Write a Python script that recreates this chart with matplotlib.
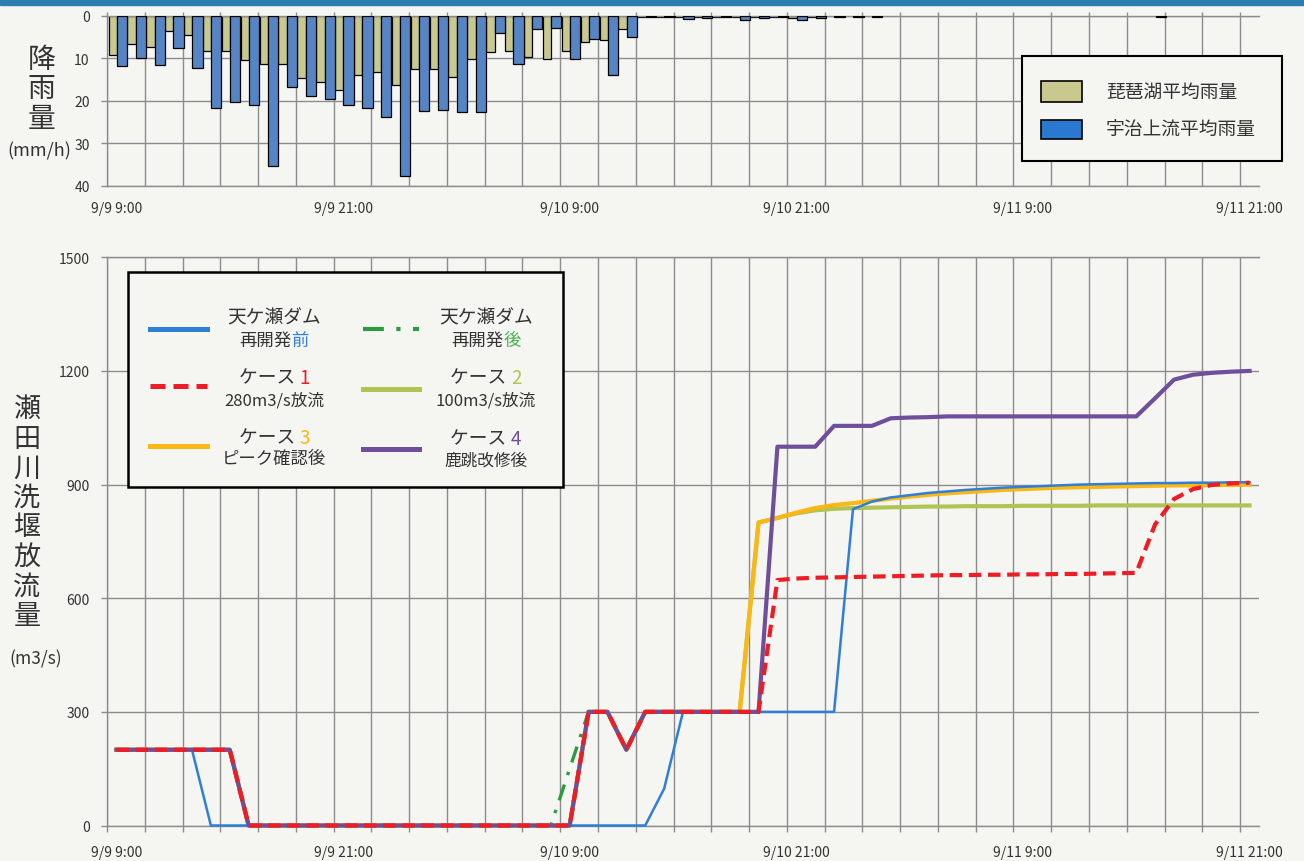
"""Rainfall (top) and Seta river weir discharge scenarios (bottom), 9/9 9:00 - 9/11 21:00."""

import matplotlib

matplotlib.use("Agg")
import matplotlib.pyplot as plt
import numpy as np
from matplotlib.lines import Line2D
from matplotlib.patches import Rectangle

plt.rcParams["font.family"] = ["Noto Sans CJK JP", "DejaVu Sans"]

W, H = 1304, 862
BG = "#f5f5f2"
GRID = "#8c8c8c"
TXT = "#333333"

# ── data (hourly, 9/9 9:00 .. 9/11 21:00) ──────────────────────────────────
tick_hours = [0, 12, 24, 36, 48, 60]
tick_labels = ["9/9 9:00", "9/9 21:00", "9/10 9:00", "9/10 21:00", "9/11 9:00", "9/11 21:00"]

# mm/h
rain_biwa = [9.3, 6.7, 7.3, 3.7, 4.5, 8.4, 8.4, 10.4, 11.4, 11.4,
             14.7, 15.7, 17.5, 14.0, 13.2, 16.2, 12.5, 12.5, 14.5, 10.2,
             8.5, 8.2, 9.6, 10.2, 8.4, 6.1, 5.6, 3.1, 0.2, 0.2,
             0.3, 0.3, 0.2, 0.3, 0.3, 0.3, 0.6, 0.3, 0.0, 0.0,
             0.0, 0.0, 0.0, 0.0, 0.0, 0.0, 0.0, 0.0, 0.0, 0.0,
             0.0, 0.0, 0.0, 0.0, 0.0, 0.0, 0.0, 0.0, 0.0, 0.0,
             0.0]
rain_uji = [11.8, 10.0, 11.6, 7.7, 12.2, 21.6, 20.4, 20.9, 35.3, 16.7,
            19.0, 19.5, 20.9, 21.6, 23.8, 37.6, 22.5, 22.1, 22.7, 22.6,
            4.1, 11.4, 3.1, 3.0, 10.2, 5.5, 14.0, 4.9, 0.3, 0.3,
            0.8, 0.5, 0.4, 1.0, 0.5, 0.4, 1.0, 0.6, 0.2, 0.2,
            0.2, 0.0, 0.0, 0.0, 0.0, 0.0, 0.0, 0.0, 0.0, 0.0,
            0.0, 0.0, 0.0, 0.0, 0.0, 0.3, 0.0, 0.0, 0.0, 0.0,
            0.0]

# m3/s
q_before = [200, 200, 200, 200, 200, 0, 0, 0, 0, 0,
            0, 0, 0, 0, 0, 0, 0, 0, 0, 0,
            0, 0, 0, 0, 0, 0, 0, 0, 0, 97,
            300, 300, 300, 300, 300, 300, 300, 300, 300, 835,
            855, 866, 872, 878, 882, 886, 889, 892, 894, 896,
            898, 900, 901, 902, 903, 904, 904, 905, 905, 906,
            906]
q_after = [200, 200, 200, 200, 200, 200, 200, 0, 0, 0,
           0, 0, 0, 0, 0, 0, 0, 0, 0, 0,
           0, 0, 0, 0, 150, 300, 300, 200, 300, 300,
           300, 300, 300, 300, np.nan, np.nan, np.nan, np.nan, np.nan, np.nan,
           np.nan, np.nan, np.nan, np.nan, np.nan, np.nan, np.nan, np.nan, np.nan, np.nan,
           np.nan, np.nan, np.nan, np.nan, np.nan, np.nan, np.nan, np.nan, np.nan, np.nan,
           np.nan]
q_case1 = [200, 200, 200, 200, 200, 200, 200, 0, 0, 0,
           0, 0, 0, 0, 0, 0, 0, 0, 0, 0,
           0, 0, 0, 0, 0, 300, 300, 200, 300, 300,
           300, 300, 300, 300, 300, 648, 652, 654, 655, 656,
           657, 658, 659, 660, 661, 661, 662, 662, 663, 663,
           664, 664, 665, 666, 667, 795, 862, 888, 899, 903,
           905]
q_case2 = [200, 200, 200, 200, 200, 200, 200, 0, 0, 0,
           0, 0, 0, 0, 0, 0, 0, 0, 0, 0,
           0, 0, 0, 0, 0, 300, 300, 200, 300, 300,
           300, 300, 300, 300, 800, 812, 824, 832, 836, 838,
           839, 840, 841, 842, 842, 843, 843, 843, 844, 844,
           844, 844, 845, 845, 845, 845, 845, 845, 845, 845,
           845]
q_case3 = [200, 200, 200, 200, 200, 200, 200, 0, 0, 0,
           0, 0, 0, 0, 0, 0, 0, 0, 0, 0,
           0, 0, 0, 0, 0, 300, 300, 200, 300, 300,
           300, 300, 300, 300, 800, 812, 826, 838, 846, 851,
           857, 863, 868, 873, 877, 880, 883, 886, 888, 890,
           892, 893, 894, 895, 896, 897, 898, 898, 899, 899,
           900]
q_case4 = [200, 200, 200, 200, 200, 200, 200, 0, 0, 0,
           0, 0, 0, 0, 0, 0, 0, 0, 0, 0,
           0, 0, 0, 0, 0, 300, 300, 200, 300, 300,
           300, 300, 300, 300, 300, 1000, 1000, 1000, 1055, 1055,
           1055, 1075, 1077, 1078, 1080, 1080, 1080, 1080, 1080, 1080,
           1080, 1080, 1080, 1080, 1080, 1128, 1177, 1190, 1195, 1198,
           1200]

hours = np.arange(len(q_case1))

C_BEFORE = "#2f7ed8"
C_AFTER = "#2e9a40"
C_CASE1 = "#ee1c25"
C_CASE2 = "#afc453"
C_CASE3 = "#fbb714"
C_CASE4 = "#6f4e9c"
C_TAN = "#c9c98f"
C_RAIN = "#5585c4"


def fx(px):
    return px / W


def fy(py):
    return 1 - py / H


fig = plt.figure(figsize=(W / 100, H / 100), dpi=100, facecolor=BG)
fig.add_artist(Rectangle((0, fy(6)), 1, 6 / H, transform=fig.transFigure,
                         color="#2c7db0", zorder=0))


def style_axes(ax, tick_pad):
    ax.set_facecolor(BG)
    ax.set_xlim(-0.5, 60.5)
    ax.set_xticks(tick_hours)
    ax.set_xticklabels(tick_labels)
    ax.set_xticks(np.arange(-0.5, 60, 2), minor=True)
    ax.grid(True, which="minor", axis="x", color=GRID, lw=1.0)
    ax.grid(True, which="major", axis="y", color=GRID, lw=1.0)
    ax.spines["right"].set_visible(False)
    for s in ("left", "top", "bottom"):
        ax.spines[s].set_color(GRID)
        ax.spines[s].set_linewidth(1.0)
    ax.tick_params(axis="x", which="major", length=0, pad=tick_pad,
                   labelsize=10, labelcolor=TXT)
    ax.tick_params(axis="y", which="major", length=4.5, width=1.0, color=GRID,
                   labelsize=10, labelcolor=TXT, pad=8)
    ax.set_axisbelow(True)


# ── rainfall panel ───────────────────────────────────────────────────────────
ax1 = fig.add_axes([fx(107), fy(186.7), (1259 - 107) / W, (186.7 - 16.7) / H])
style_axes(ax1, 11)
biwa = np.array(rain_biwa)
uji = np.array(rain_uji)
ax1.bar(hours[biwa > 0] - 0.42, biwa[biwa > 0], width=0.44, align="edge",
        color=C_TAN, edgecolor="black", lw=0.9, zorder=2)
ax1.bar(hours[uji > 0] + 0.02, uji[uji > 0], width=0.54, align="edge",
        color=C_RAIN, edgecolor="black", lw=0.9, zorder=3)
ax1.set_ylim(40, 0)
ax1.set_yticks([0, 10, 20, 30, 40])
ax1.tick_params(axis="x", which="minor", top=True, bottom=False, length=3,
                color=GRID, width=1.0)

# ── discharge panel ─────────────────────────────────────────────────────────
ax2 = fig.add_axes([fx(107), fy(826.5), (1259 - 107) / W, (826.5 - 258.3) / H])
style_axes(ax2, 14)
ax2.set_ylim(0, 1500)
ax2.set_yticks([0, 300, 600, 900, 1200, 1500])
ax2.tick_params(axis="x", which="minor", bottom=True, length=4.5,
                color=GRID, width=1.0)

ax2.plot(hours, q_case2, color=C_CASE2, lw=3.0, clip_on=False, zorder=3)
ax2.plot(hours, q_case3, color=C_CASE3, lw=3.0, clip_on=False, zorder=4)
ax2.plot(hours, q_before, color=C_BEFORE, lw=1.8, clip_on=False, zorder=5)
ax2.plot(hours, q_after, color=C_AFTER, lw=2.4, dashes=(5, 3, 1, 3),
         clip_on=False, zorder=6)
ax2.plot(hours, q_case4, color=C_CASE4, lw=3.0, clip_on=False, zorder=7)
ax2.plot(hours, q_case1, color=C_CASE1, lw=3.0, dashes=(3, 1.6),
         clip_on=False, zorder=8)

# ── vertical axis titles ────────────────────────────────────────────────────
for i, ch in enumerate("降雨量"):
    fig.text(fx(41.5), fy(59.5 + 29.7 * i), ch, fontsize=20, color=TXT,
             ha="center", va="center")
fig.text(fx(39.5), fy(151), "(mm/h)", fontsize=13, color=TXT,
         ha="center", va="center")
for i, ch in enumerate("瀬田川洗堰放流量"):
    fig.text(fx(27), fy(410 + 29.5 * i), ch, fontsize=19.5, color=TXT,
             ha="center", va="center")
fig.text(fx(36), fy(659), "(m3/s)", fontsize=12.5, color=TXT,
         ha="center", va="center")

# ── rainfall legend ─────────────────────────────────────────────────────────
fig.add_artist(Rectangle((fx(1022), fy(161.7)), (1282 - 1022) / W, (161.7 - 57.3) / H,
                         transform=fig.transFigure, facecolor=BG,
                         edgecolor="black", lw=1.5, zorder=5))
for y0, y1, col, label in [(81.7, 103.3, C_TAN, "琵琶湖平均雨量"),
                           (120.7, 140.0, "#2a78d0", "宇治上流平均雨量")]:
    fig.add_artist(Rectangle((fx(1041), fy(y1)), (1082 - 1041) / W, (y1 - y0) / H,
                             transform=fig.transFigure, facecolor=col,
                             edgecolor="black", lw=1.2, zorder=6))
    fig.text(fx(1106), fy((y0 + y1) / 2), label, fontsize=13.5, color=TXT,
             ha="left", va="center", zorder=7)

# ── discharge legend ────────────────────────────────────────────────────────
fig.add_artist(Rectangle((fx(128), fy(488)), (563 - 128) / W, (488 - 273) / H,
                         transform=fig.transFigure, facecolor=BG,
                         edgecolor="black", lw=1.8, zorder=5))

renderer = fig.canvas.get_renderer()


def two_tone(cx, cy, head, tail, tail_color, size):
    """Centered text whose tail part is drawn in another colour."""
    base = cy + size * 100 / 72 * 0.36
    ta = fig.text(0, 0, head, fontsize=size, color=TXT, zorder=7)
    tb = fig.text(0, 0, tail, fontsize=size, color=tail_color, zorder=7)
    wa = ta.get_window_extent(renderer).width
    wb = tb.get_window_extent(renderer).width
    left = cx - (wa + wb) / 2
    ta.set_position((fx(left), fy(base)))
    tb.set_position((fx(left + wa), fy(base)))
    ta.set_va("baseline")
    tb.set_va("baseline")


legend_rows = [
    # x0, x1, line y, colour, style, text cx, line1 (head, tail, colour, y), line2 (head, tail, colour, y, size)
    (150, 207, 330, C_BEFORE, {}, 274,
     ("天ケ瀬ダム", "", TXT, 317), ("再開発", "前", C_BEFORE, 340, 12.5)),
    (150, 207, 387, C_CASE1, {"dashes": (3, 1.6)}, 274,
     ("ケース ", "1", C_CASE1, 377), ("280m3/s放流", "", TXT, 400, 12)),
    (150, 207, 447, C_CASE3, {}, 274,
     ("ケース ", "3", C_CASE3, 437), ("ピーク確認後", "", TXT, 458, 12.5)),
    (363, 419, 330, C_AFTER, {"dashes": (5, 3, 1, 3)}, 486,
     ("天ケ瀬ダム", "", TXT, 317), ("再開発", "後", "#4caf50", 340, 12.5)),
    (363, 419, 390, C_CASE2, {}, 486,
     ("ケース ", "2", C_CASE2, 377), ("100m3/s放流", "", TXT, 400, 12)),
    (363, 419, 450, C_CASE4, {}, 486,
     ("ケース ", "4", C_CASE4, 438), ("鹿跳改修後", "", TXT, 460, 12)),
]
for x0, x1, ly, col, style, cx, first, second in legend_rows:
    fig.add_artist(Line2D([fx(x0), fx(x1)], [fy(ly), fy(ly)],
                          transform=fig.transFigure, color=col,
                          lw=3.6 if col != C_AFTER else 3.0, zorder=6, **style))
    two_tone(cx, first[3], first[0], first[1], first[2], 13.5)
    two_tone(cx, second[3], second[0], second[1], second[2], second[4])

fig.savefig("out.png", dpi=100, facecolor=BG)
plt.close(fig)
